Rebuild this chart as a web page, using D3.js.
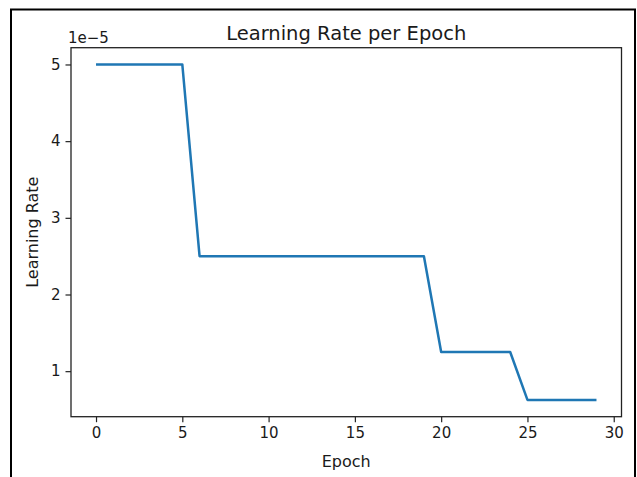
<!DOCTYPE html>
<html>
<head>
<meta charset="utf-8">
<script src="https://cdn.jsdelivr.net/npm/d3@7"></script>
<style>
  html, body { margin: 0; padding: 0; background: #fff; }
  svg { display: block; }
  text { font-family: "DejaVu Sans", sans-serif; fill: #1a1a1a; }
</style>
</head>
<body>
<svg id="chart" width="637" height="477"></svg>
<script>
// Data
const epochs = [0,1,2,3,4,5,6,7,8,9,10,11,12,13,14,15,16,17,18,19,20,21,22,23,24,25,26,27,28,29];
const learningRate = [5,5,5,5,5,5,2.5,2.5,2.5,2.5,2.5,2.5,2.5,2.5,2.5,2.5,2.5,2.5,2.5,2.5,1.25,1.25,1.25,1.25,1.25,0.625,0.625,0.625,0.625,0.625]; // x 1e-5
const xTicks = [0,5,10,15,20,25,30];
const yTicks = [1,2,3,4,5];
const titleText = "Learning Rate per Epoch";
const xLabel = "Epoch";
const yLabel = "Learning Rate";
const offsetText = "1e\u22125";

const svg = d3.select("#chart");

// outer frame
svg.append("rect")
  .attr("x", 11).attr("y", 9.5)
  .attr("width", 624).attr("height", 480)
  .attr("fill", "none").attr("stroke", "#000").attr("stroke-width", 2);

const mLeft = 71, mRight = 621.5, mTop = 47.7, mBottom = 416.7;

const xMin = d3.min(epochs), xMax = d3.max(epochs);
const xPad = (xMax - xMin) * 0.05;
const yMinV = d3.min(learningRate), yMaxV = d3.max(learningRate);
const yPad = (yMaxV - yMinV) * 0.05;

const x = d3.scaleLinear().domain([xMin - xPad, xMax + xPad]).range([mLeft, mRight]);
const y = d3.scaleLinear().domain([yMinV - yPad, yMaxV + yPad]).range([mBottom, mTop]);

// line
const line = d3.line().x((d, i) => x(epochs[i])).y(d => y(d));
svg.append("path")
  .datum(learningRate)
  .attr("d", line)
  .attr("fill", "none")
  .attr("stroke", "#1f77b4")
  .attr("stroke-width", 2.5)
  .attr("stroke-linejoin", "round");

// axes
const xAxis = d3.axisBottom(x).tickValues(xTicks).tickSize(5.5).tickPadding(5).tickFormat(d3.format("d"));
const yAxis = d3.axisLeft(y).tickValues(yTicks).tickSize(5.5).tickPadding(5).tickFormat(d3.format("d"));

const gx = svg.append("g").attr("transform", `translate(0,${mBottom})`).call(xAxis);
const gy = svg.append("g").attr("transform", `translate(${mLeft},0)`).call(yAxis);
[gx, gy].forEach(g => {
  g.select(".domain").remove();
  g.selectAll(".tick line").attr("stroke", "#222").attr("stroke-width", 1.2);
  g.selectAll(".tick text").attr("font-size", 15).attr("fill", "#1a1a1a")
    .style("font-family", "DejaVu Sans, sans-serif");
});

// spines
svg.append("rect")
  .attr("x", mLeft).attr("y", mTop)
  .attr("width", mRight - mLeft).attr("height", mBottom - mTop)
  .attr("fill", "none").attr("stroke", "#222").attr("stroke-width", 1.3);

// title
svg.append("text")
  .attr("x", (mLeft + mRight) / 2).attr("y", 40)
  .attr("text-anchor", "middle").attr("font-size", 19.5)
  .text(titleText);

// offset text
svg.append("text")
  .attr("x", mLeft - 3).attr("y", 43)
  .attr("font-size", 15)
  .text(offsetText);

// x label
svg.append("text")
  .attr("x", (mLeft + mRight) / 2).attr("y", 467)
  .attr("text-anchor", "middle").attr("font-size", 16)
  .text(xLabel);

// y label
svg.append("text")
  .attr("transform", `translate(38,${(mTop + mBottom) / 2}) rotate(-90)`)
  .attr("text-anchor", "middle").attr("font-size", 16)
  .text(yLabel);
</script>
</body>
</html>
